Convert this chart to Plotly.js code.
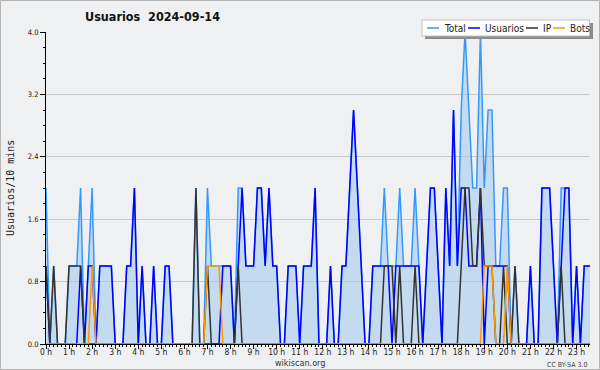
<!DOCTYPE html>
<html><head><meta charset="utf-8">
<script src="https://cdn.plot.ly/plotly-3.0.1.min.js"></script>
<style>
html,body{margin:0;padding:0;background:#eff0f2;}
#chart{width:600px;height:370px;}
</style></head><body><div id="chart"></div>
<script>
// ---- data (10-minute slots, 2024-09-14) ----
const hourLabels = ["0 h","1 h","2 h","3 h","4 h","5 h","6 h","7 h","8 h","9 h","10 h","11 h",
  "12 h","13 h","14 h","15 h","16 h","17 h","18 h","19 h","20 h","21 h","22 h","23 h"];
const yTickValues = [0, 0.8, 1.6, 2.4, 3.2, 4.0];
const seriesNames = ["Total", "Usuarios", "IP", "Bots"];

const total = [
  2,0,1,0,0,0,1,1,1,2,0,1,
  2,0,1,1,1,1,0,0,0,1,1,2,
  0,1,0,0,1,0,0,1,1,0,0,0,
  0,0,0,2,0,0,2,1,1,1,1,1,
  1,0,2,2,1,1,1,2,2,1,2,1,
  1,0,0,1,1,1,0,1,1,1,2,0,
  0,0,1,0,0,1,1,2,3,2,1,0,
  0,1,1,1,2,1,1,1,2,1,1,1,
  2,1,0,1,2,2,1,0,2,1,3,1,
  3,4,3,2,2,4,2,3,3,1,1,2,
  2,0,1,0,0,0,1,0,0,2,2,2,
  1,0,2,2,2,0,1,0,1,1,1,1];
const usuarios = [
  1,0,0,0,0,0,0,0,0,1,0,1,
  1,0,1,1,1,1,0,0,0,1,1,2,
  0,1,0,0,1,0,0,1,1,0,0,0,
  0,0,0,0,0,0,0,0,0,0,1,1,
  1,0,1,2,1,1,1,2,2,1,2,1,
  1,0,0,1,1,1,0,1,1,1,2,0,
  0,0,1,0,0,1,1,2,3,2,1,0,
  0,1,1,1,1,1,0,1,1,1,1,1,
  1,1,0,1,2,2,1,0,2,1,3,1,
  2,2,1,1,1,2,0,1,1,1,1,1,
  1,0,0,0,0,0,1,0,0,2,2,2,
  1,0,1,2,2,0,1,0,1,1,1,1];
const ip = [
  1,0,1,0,0,0,1,1,1,1,0,0,
  0,0,0,0,0,0,0,0,0,0,0,0,
  0,0,0,0,0,0,0,0,0,0,0,0,
  0,0,0,2,0,0,1,0,0,0,0,0,
  0,0,1,0,0,0,0,0,0,0,0,0,
  0,0,0,0,0,0,0,0,0,0,0,0,
  0,0,0,0,0,0,0,0,0,0,0,0,
  0,0,0,0,1,1,1,0,1,0,0,0,
  1,0,0,0,0,0,0,0,0,0,0,0,
  1,2,2,1,1,2,1,1,1,0,0,1,
  0,0,1,0,0,0,0,0,0,0,0,0,
  0,0,1,0,0,0,0,0,0,0,0,0];
const bots = [
  0,0,0,0,0,0,0,0,0,0,0,0,
  1,0,0,0,0,0,0,0,0,0,0,0,
  0,0,0,0,0,0,0,0,0,0,0,0,
  0,0,0,0,0,0,1,1,1,1,0,0,
  0,0,0,0,0,0,0,0,0,0,0,0,
  0,0,0,0,0,0,0,0,0,0,0,0,
  0,0,0,0,0,0,0,0,0,0,0,0,
  0,0,0,0,0,0,0,0,0,0,0,0,
  0,0,0,0,0,0,0,0,0,0,0,0,
  0,0,0,0,0,0,1,1,1,0,0,0,
  1,0,0,0,0,0,0,0,0,0,0,0,
  0,0,0,0,0,0,0,0,0,0,0,0];

// ---- styling ----
const colors = ["#3399ff", "#0000ff", "#333333", "#ff9900"];
const FONT = "DejaVu Sans Condensed, DejaVu Sans, sans-serif";
const W = 600, H = 370, ML = 46, MR = 10, MT = 32, MB = 26;
const PW = W - ML - MR, PH = H - MT - MB;
const px = p => (p - ML) / PW;        // page x -> paper x
const py = p => (H - MB - p) / PH;    // page y -> paper y

const slots = total.map((_, i) => i);
const seriesData = [total, usuarios, ip, bots];

const traces = seriesData.map((vals, k) => ({
  type: "scatter", mode: "lines", x: slots, y: vals, name: seriesNames[k],
  line: {color: colors[k], width: 1.5},
  fill: k === 0 ? "tozeroy" : "none",
  fillcolor: "rgba(160,200,235,0.55)",
  hoverinfo: "skip"
}));

// custom legend
const legendSampleX = [427, 468, 526, 553];
const legendY = 28;
const shapes = [
  {type:"rect", xref:"paper", yref:"paper", x0:px(425), x1:px(593), y0:py(23), y1:py(39),
   fillcolor:"#8c8c8c", line:{width:0}},
  {type:"rect", xref:"paper", yref:"paper", x0:px(422), x1:px(589.5), y0:py(20), y1:py(36),
   fillcolor:"#ffffff", line:{color:"#c0c0c0", width:1}},
  {type:"rect", xref:"paper", yref:"paper", x0:px(0.5), x1:px(599.5), y0:py(0.5), y1:py(369.5),
   fillcolor:"rgba(0,0,0,0)", line:{color:"#b4b4b4", width:1}}
];
const annotations = [];
seriesNames.forEach((n, k) => {
  shapes.push({type:"line", xref:"paper", yref:"paper",
    x0:px(legendSampleX[k]), x1:px(legendSampleX[k] + 12), y0:py(legendY), y1:py(legendY),
    line:{color:colors[k], width:1.5}});
  annotations.push({xref:"paper", yref:"paper", x:px(legendSampleX[k] + 15), y:py(legendY),
    xanchor:"left", yanchor:"middle", showarrow:false, text:n,
    font:{family:FONT, size:10, color:"#222"}});
});
annotations.push(
  {xref:"paper", yref:"paper", x:px(10), y:py(188), textangle:-90, showarrow:false,
   text:"Usuarios/10 mins", xanchor:"center", yanchor:"middle",
   font:{family:"DejaVu Sans Mono, monospace", size:10, color:"#222"}},
  {xref:"paper", yref:"paper", x:px(300), y:py(362.5), showarrow:false, text:"wikiscan.org",
   xanchor:"center", yanchor:"middle", font:{family:FONT, size:9, color:"#333"}},
  {xref:"paper", yref:"paper", x:px(589), y:py(364.5), showarrow:false, text:"CC BY-SA 3.0",
   xanchor:"right", yanchor:"middle", font:{family:FONT, size:7, color:"#444"}}
);

const layout = {
  width: W, height: H,
  margin: {l: ML, r: MR, t: MT, b: MB, pad: 0},
  paper_bgcolor: "#eff0f2", plot_bgcolor: "#eff0f2",
  showlegend: false,
  title: {text: "Usuarios\u00a0 2024-09-14", x: 85 / W, xanchor: "left",
          y: 1 - 17 / H, yanchor: "middle",
          font: {family: FONT, size: 12.5, weight: "bold", color: "#111"}},
  xaxis: {
    range: [0, 141.5], tickmode: "array",
    tickvals: hourLabels.map((_, h) => h * 6), ticktext: hourLabels,
    ticks: "outside", ticklen: 4, tickwidth: 1, tickcolor: "#000",
    ticklabelstandoff: -4,
    showline: true, linecolor: "#000", linewidth: 1,
    showgrid: false, zeroline: false,
    minor: {tick0: 0, dtick: 1, ticks: "outside", ticklen: 2, tickcolor: "#000", showgrid: false},
    tickfont: {family: FONT, size: 8.5, color: "#222"}
  },
  yaxis: {
    range: [0, 4], tickmode: "array",
    tickvals: yTickValues, ticktext: yTickValues.map(v => v.toFixed(1)),
    ticks: "outside", ticklen: 5, tickwidth: 1, tickcolor: "#000",
    showline: true, linecolor: "#000", linewidth: 1,
    showgrid: true, gridcolor: "#c8c8c8", gridwidth: 1, zeroline: false,
    minor: {tick0: 0, dtick: 0.2, ticks: "outside", ticklen: 2.5, tickcolor: "#000", showgrid: false},
    tickfont: {family: FONT, size: 7.5, color: "#222"}
  },
  shapes: shapes,
  annotations: annotations
};

Plotly.newPlot("chart", traces, layout, {displayModeBar: false, staticPlot: true});
</script></body></html>
